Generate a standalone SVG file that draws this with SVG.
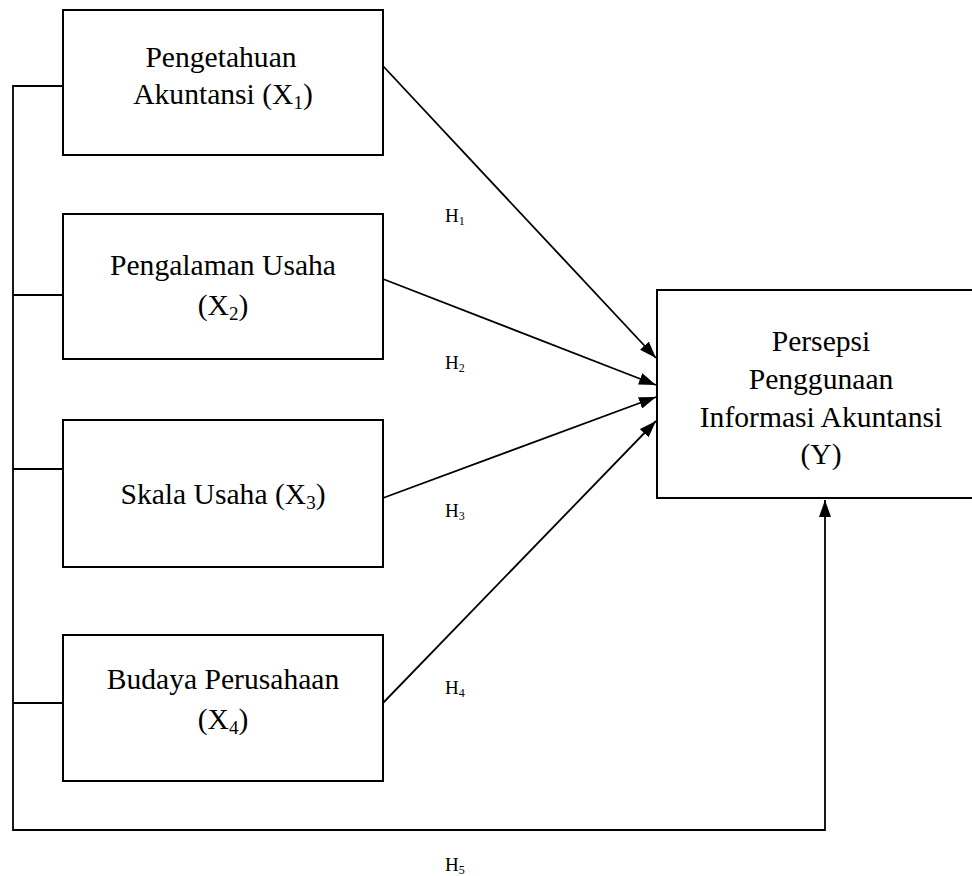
<svg xmlns="http://www.w3.org/2000/svg" width="972" height="876" viewBox="0 0 972 876">
<style>
.box{fill:#fff;stroke:#000;stroke-width:2}
.ln{fill:none;stroke:#000;stroke-width:1.8}
.t{font-size:29.6px;fill:#000;text-anchor:middle}
.h{font-size:19px;fill:#000}
.sub{font-size:19px}
.hs{font-size:12px}
</style>
<defs>
<marker id="ah" markerWidth="18" markerHeight="12" refX="17" refY="6" orient="auto" markerUnits="userSpaceOnUse">
<path d="M0,0 L17,6 L0,12 Z" fill="#000"/>
</marker>
</defs>
<rect width="972" height="876" fill="#fff"/>
<g id="connectors">
<polyline class="ln" points="63,86 13,86 13,830 825,830 825,500" marker-end="url(#ah)"/>
<line class="ln" x1="13" y1="295" x2="63" y2="295"/>
<line class="ln" x1="13" y1="469" x2="63" y2="469"/>
<line class="ln" x1="13" y1="703" x2="63" y2="703"/>
<line class="ln" x1="383" y1="66" x2="656" y2="358" marker-end="url(#ah)"/>
<line class="ln" x1="383" y1="279" x2="656" y2="385" marker-end="url(#ah)"/>
<line class="ln" x1="383" y1="498" x2="656" y2="397" marker-end="url(#ah)"/>
<line class="ln" x1="383" y1="703" x2="656" y2="421" marker-end="url(#ah)"/>
</g>
<g font-family="'Liberation Serif', 'DejaVu Serif', serif">
<g id="x1">
<rect class="box" x="63" y="10" width="320" height="145"/>
<text class="t" x="221" y="67">Pengetahuan</text>
<text class="t" x="223" y="104">Akuntansi (X<tspan class="sub" dy="5">1</tspan><tspan dy="-5">)</tspan></text>
</g>
<g id="x2">
<rect class="box" x="63" y="214" width="320" height="145"/>
<text class="t" x="223" y="275">Pengalaman Usaha</text>
<text class="t" x="223" y="315">(X<tspan class="sub" dy="5">2</tspan><tspan dy="-5">)</tspan></text>
</g>
<g id="x3">
<rect class="box" x="63" y="420" width="320" height="147"/>
<text class="t" x="223" y="504">Skala Usaha (X<tspan class="sub" dy="5">3</tspan><tspan dy="-5">)</tspan></text>
</g>
<g id="x4">
<rect class="box" x="63" y="635" width="320" height="146"/>
<text class="t" x="223" y="689">Budaya Perusahaan</text>
<text class="t" x="223" y="729">(X<tspan class="sub" dy="5">4</tspan><tspan dy="-5">)</tspan></text>
</g>
<g id="y">
<rect class="box" x="657" y="290" width="330" height="208"/>
<text class="t" x="821" y="351">Persepsi</text>
<text class="t" x="821" y="389">Penggunaan</text>
<text class="t" x="821" y="427">Informasi Akuntansi</text>
<text class="t" x="821" y="464">(Y)</text>
</g>
<g id="labels">
<text class="h" x="445" y="222">H<tspan class="hs" dy="3">1</tspan></text>
<text class="h" x="445" y="369">H<tspan class="hs" dy="3">2</tspan></text>
<text class="h" x="445" y="517">H<tspan class="hs" dy="3">3</tspan></text>
<text class="h" x="445" y="694">H<tspan class="hs" dy="3">4</tspan></text>
<text class="h" x="445" y="871">H<tspan class="hs" dy="3">5</tspan></text>
</g>
</g>
</svg>
